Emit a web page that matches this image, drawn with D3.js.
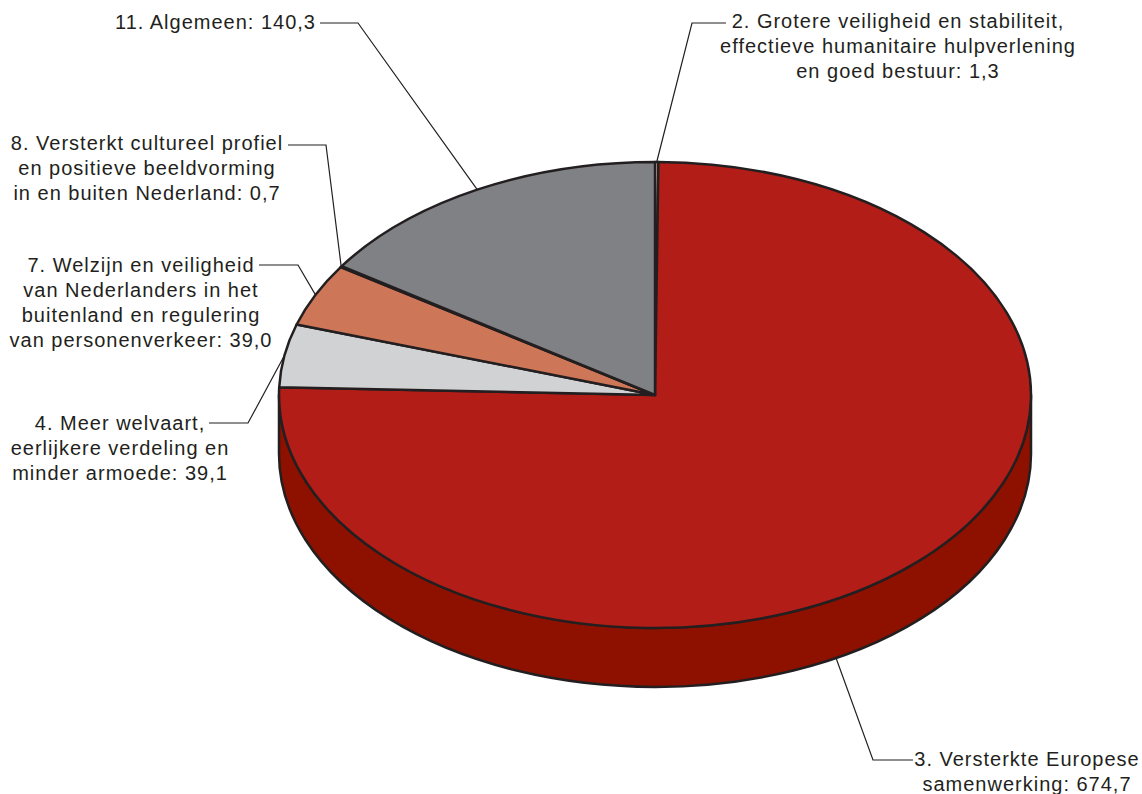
<!DOCTYPE html>
<html>
<head>
<meta charset="utf-8">
<script src="https://cdn.jsdelivr.net/npm/d3@7"></script>
<style>
  html, body { margin: 0; padding: 0; background: #fff; }
  svg { display: block; }
</style>
</head>
<body>
<script>
// data, clockwise from 12 o'clock
var labels = [
  ["2. Grotere veiligheid en stabiliteit,", "effectieve humanitaire hulpverlening", "en goed bestuur: 1,3"],
  ["3. Versterkte Europese", "samenwerking: 674,7"],
  ["4. Meer welvaart,", "eerlijkere verdeling en", "minder armoede: 39,1"],
  ["7. Welzijn en veiligheid", "van Nederlanders in het", "buitenland en regulering", "van personenverkeer: 39,0"],
  ["8. Versterkt cultureel profiel", "en positieve beeldvorming", "in en buiten Nederland: 0,7"],
  ["11. Algemeen: 140,3"]
];
var values = [1.3, 674.7, 39.1, 39.0, 0.7, 140.3];
var topColors = ["#F2CBB2", "#B21D18", "#D1D2D4", "#CE7658", "#8a7d78", "#808184"];
var wallColors = ["#c99a80", "#8E1100", "#a9aaac", "#a75a40", "#6a605c", "#5f6063"];

// label layout: text anchor point, elbow x, line y, anchor angle shift (deg)
var layout = [
  {x: 898, y: 28, anchor: "middle", lineStart: 726, elbow: 692, lineY: 23, shift: 0},
  {x: 1027, y: 766, anchor: "middle", lineStart: 913, elbow: 873, lineY: 760, shift: 15, wall: true},
  {x: 120, y: 430, anchor: "middle", lineStart: 209, elbow: 248, lineY: 423, shift: 0},
  {x: 141, y: 272, anchor: "middle", lineStart: 259, elbow: 298, lineY: 265, shift: 0},
  {x: 147, y: 150, anchor: "middle", lineStart: 288, elbow: 326, lineY: 145, shift: 0},
  {x: 316, y: 29, anchor: "end", lineStart: 320, elbow: 358, lineY: 23, shift: 0}
];

var W = 1142, H = 794;
var cx = 655, cy = 395, rx = 376, ry = 233, depth = 59;
var ink = "#231F20";

var svg = d3.select("body").append("svg")
  .attr("width", W)
  .attr("height", H);

var pie = d3.pie().sort(null).value(d => d)(values);

var pt = (a, dy) => [cx + rx * Math.sin(a), cy - ry * Math.cos(a) + (dy || 0)];

// side wall, only the front half shows
var front0 = Math.PI / 2, front1 = Math.PI * 3 / 2;
pie.forEach((d, i) => {
  var s = Math.max(d.startAngle, front0), e = Math.min(d.endAngle, front1);
  if (s >= e) return;
  var p0 = pt(s), p1 = pt(e), q1 = pt(e, depth), q0 = pt(s, depth);
  var big = (e - s) > Math.PI ? 1 : 0;
  svg.append("path")
    .attr("d", `M${p0}A${rx},${ry} 0 ${big} 1 ${p1}L${q1}A${rx},${ry} 0 ${big} 0 ${q0}Z`)
    .attr("fill", wallColors[i])
    .attr("stroke", ink)
    .attr("stroke-width", 2.5)
    .attr("stroke-linejoin", "round");
});

// top face
svg.selectAll(".slice")
  .data(pie)
  .enter()
  .append("path")
    .attr("class", "slice")
    .attr("d", d => {
      var p0 = pt(d.startAngle), p1 = pt(d.endAngle);
      var big = (d.endAngle - d.startAngle) > Math.PI ? 1 : 0;
      return `M${cx},${cy}L${p0}A${rx},${ry} 0 ${big} 1 ${p1}Z`;
    })
    .attr("fill", (d, i) => topColors[i])
    .attr("stroke", ink)
    .attr("stroke-width", 2.5)
    .attr("stroke-linejoin", "round");

// leader lines
pie.forEach((d, i) => {
  var L = layout[i];
  var a = (d.startAngle + d.endAngle) / 2 + L.shift * Math.PI / 180;
  var end = pt(a, L.wall ? depth : 0);
  svg.append("polyline")
    .attr("points", [[L.lineStart, L.lineY], [L.elbow, L.lineY], end].join(" "))
    .attr("fill", "none")
    .attr("stroke", ink)
    .attr("stroke-width", 1.2);
});

// labels
labels.forEach((lines, i) => {
  var L = layout[i];
  var t = svg.append("text")
    .attr("x", L.x)
    .attr("y", L.y)
    .attr("text-anchor", L.anchor)
    .attr("fill", ink)
    .style("font-family", "'Liberation Sans', Arial, sans-serif")
    .style("font-size", "20px")
    .style("letter-spacing", "1px");
  lines.forEach((s, j) => {
    t.append("tspan")
      .attr("x", L.x)
      .attr("dy", j === 0 ? 0 : 25)
      .text(s);
  });
});
</script>
</body>
</html>
